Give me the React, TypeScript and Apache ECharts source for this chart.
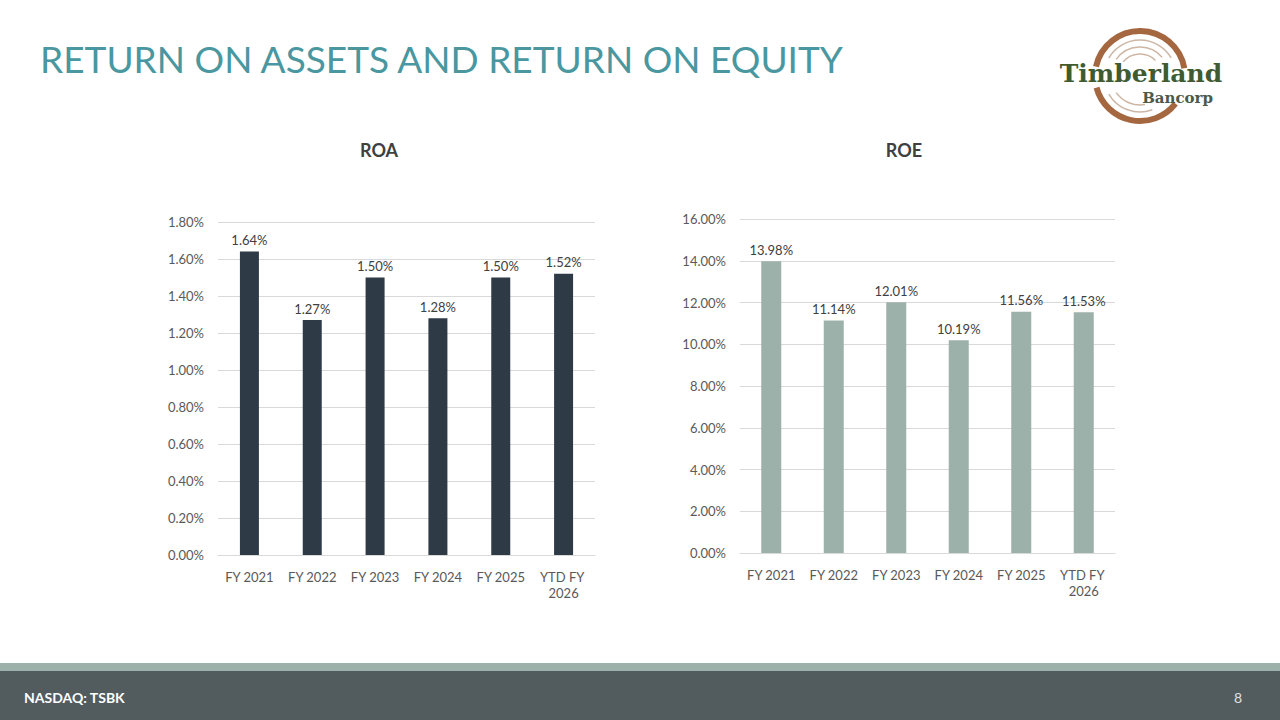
import React, { useEffect, useRef } from "react";
import * as echarts from "echarts";

const categories = ["FY 2021", "FY 2022", "FY 2023", "FY 2024", "FY 2025", "YTD FY 2026"];
const roaValues = [1.64, 1.27, 1.5, 1.28, 1.5, 1.52];
const roeValues = [13.98, 11.14, 12.01, 10.19, 11.56, 11.53];
const pageTitle = "RETURN ON ASSETS AND RETURN ON EQUITY";
const roaTitle = "ROA";
const roeTitle = "ROE";
const footerLeft = "NASDAQ: TSBK";
const footerRight = "8";

const FONT = "Lato, 'Open Sans', sans-serif";
const pct = (v: number) => v.toFixed(2) + "%";

export default function App() {
  const ref = useRef<HTMLDivElement>(null);
  useEffect(() => {
    if (!ref.current) return;
    const chart = echarts.init(ref.current, null, { renderer: "svg" });
    const deg = (d: number) => (d * Math.PI) / 180;
    const cx = 1140, cy = 76;
    const axisLabel = { color: "#595959", fontSize: 13, fontFamily: FONT };
    const xLabel = {
      ...axisLabel,
      margin: 14,
      interval: 0,
      width: 58,
      overflow: "break" as const,
      lineHeight: 16,
    };
    const barLabel = {
      show: true,
      position: "top" as const,
      distance: 5,
      color: "#404040",
      fontSize: 13,
      fontFamily: FONT,
      formatter: (p: any) => pct(p.value),
    };
    chart.setOption({
      animation: false,
      backgroundColor: "#ffffff",
      grid: [
        { left: 218, top: 222, width: 377, height: 333 },
        { left: 740, top: 219, width: 375, height: 334 },
      ],
      xAxis: [
        {
          gridIndex: 0,
          type: "category",
          data: categories,
          axisTick: { show: false },
          axisLine: { lineStyle: { color: "#D9D9D9" } },
          axisLabel: xLabel,
        },
        {
          gridIndex: 1,
          type: "category",
          data: categories,
          axisTick: { show: false },
          axisLine: { lineStyle: { color: "#D9D9D9" } },
          axisLabel: xLabel,
        },
      ],
      yAxis: [
        {
          gridIndex: 0,
          type: "value",
          min: 0,
          max: 1.8,
          interval: 0.2,
          axisLine: { show: false },
          axisTick: { show: false },
          splitLine: { lineStyle: { color: "#D9D9D9" } },
          axisLabel: { ...axisLabel, margin: 14, formatter: (v: number) => pct(v) },
        },
        {
          gridIndex: 1,
          type: "value",
          min: 0,
          max: 16,
          interval: 2,
          axisLine: { show: false },
          axisTick: { show: false },
          splitLine: { lineStyle: { color: "#D9D9D9" } },
          axisLabel: { ...axisLabel, margin: 14, formatter: (v: number) => pct(v) },
        },
      ],
      series: [
        {
          type: "bar",
          xAxisIndex: 0,
          yAxisIndex: 0,
          data: roaValues,
          barWidth: 19,
          itemStyle: { color: "#2E3B47" },
          label: barLabel,
        },
        {
          type: "bar",
          xAxisIndex: 1,
          yAxisIndex: 1,
          data: roeValues,
          barWidth: 20,
          itemStyle: { color: "#9DB1AB" },
          label: barLabel,
        },
      ],
      graphic: [
        {
          type: "text",
          left: 40,
          top: 40,
          style: {
            text: pageTitle,
            fill: "#4A979F",
            fontSize: 37,
            fontFamily: FONT,
          },
        },
        {
          type: "text",
          x: 379,
          y: 150,
          style: {
            text: roaTitle,
            fill: "#404040",
            fontSize: 18,
            fontWeight: "bold",
            fontFamily: FONT,
            align: "center",
            verticalAlign: "middle",
          },
        },
        {
          type: "text",
          x: 904,
          y: 150,
          style: {
            text: roeTitle,
            fill: "#404040",
            fontSize: 18,
            fontWeight: "bold",
            fontFamily: FONT,
            align: "center",
            verticalAlign: "middle",
          },
        },
        // footer
        { type: "rect", shape: { x: 0, y: 663, width: 1280, height: 8 }, style: { fill: "#9DB0AA" } },
        { type: "rect", shape: { x: 0, y: 671, width: 1280, height: 49 }, style: { fill: "#525C5F" } },
        {
          type: "text",
          x: 24,
          y: 697,
          style: {
            text: footerLeft,
            fill: "#ffffff",
            fontSize: 14,
            fontWeight: "bold",
            fontFamily: FONT,
            verticalAlign: "middle",
          },
        },
        {
          type: "text",
          x: 1242,
          y: 697,
          style: {
            text: footerRight,
            fill: "#E0E0E0",
            fontSize: 14,
            fontFamily: FONT,
            align: "right",
            verticalAlign: "middle",
          },
        },
        // logo rings
        {
          type: "arc",
          shape: { cx, cy, r: 45, startAngle: deg(-168), endAngle: deg(-10), clockwise: true },
          style: { stroke: "#A4673F", lineWidth: 6, fill: "none" },
        },
        {
          type: "arc",
          shape: { cx, cy, r: 45, startAngle: deg(38), endAngle: deg(165), clockwise: true },
          style: { stroke: "#A4673F", lineWidth: 6, fill: "none" },
        },
        {
          type: "arc",
          shape: { cx, cy, r: 36, startAngle: deg(-150), endAngle: deg(-30), clockwise: true },
          style: { stroke: "#CDB6A4", lineWidth: 1.5, fill: "none" },
        },
        {
          type: "arc",
          shape: { cx, cy, r: 29, startAngle: deg(-145), endAngle: deg(-40), clockwise: true },
          style: { stroke: "#CDB6A4", lineWidth: 1.5, fill: "none" },
        },
        {
          type: "arc",
          shape: { cx, cy, r: 22, startAngle: deg(-140), endAngle: deg(-45), clockwise: true },
          style: { stroke: "#CDB6A4", lineWidth: 1.5, fill: "none" },
        },
        {
          type: "arc",
          shape: { cx, cy, r: 36, startAngle: deg(70), endAngle: deg(150), clockwise: true },
          style: { stroke: "#CDB6A4", lineWidth: 1.5, fill: "none" },
        },
        {
          type: "arc",
          shape: { cx, cy, r: 29, startAngle: deg(80), endAngle: deg(145), clockwise: true },
          style: { stroke: "#CDB6A4", lineWidth: 1.5, fill: "none" },
        },
        {
          type: "text",
          x: 1141,
          y: 73,
          style: {
            text: "Timberland",
            fill: "#3F5B31",
            fontSize: 25,
            fontWeight: "bold",
            fontFamily: "'DejaVu Serif', 'Liberation Serif', serif",
            align: "center",
            verticalAlign: "middle",
          },
        },
        {
          type: "text",
          x: 1213,
          y: 98,
          style: {
            text: "Bancorp",
            fill: "#4B5A4C",
            fontSize: 15,
            fontWeight: "bold",
            fontFamily: "'DejaVu Serif', 'Liberation Serif', serif",
            align: "right",
            verticalAlign: "middle",
          },
        },
      ],
    });
    return () => chart.dispose();
  }, []);
  return (
    <div
      ref={ref}
      style={{ position: "fixed", left: 0, top: 0, width: 1280, height: 720 }}
    />
  );
}
